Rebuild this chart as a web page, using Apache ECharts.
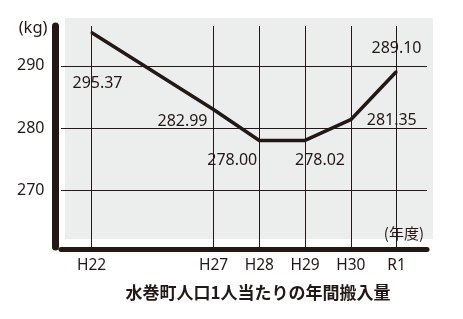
<!DOCTYPE html>
<html><head><meta charset="utf-8">
<script src="https://cdn.jsdelivr.net/npm/echarts@6/dist/echarts.min.js"></script>
<style>html,body{margin:0;padding:0;background:#fff}#c{width:463px;height:319px}</style>
</head><body><div id="c"></div>
<script>
// ---- data ----
const years = ['H22', 'H27', 'H28', 'H29', 'H30', 'R1'];
const values = [295.37, 282.99, 278.00, 278.02, 281.35, 289.10];
const yTicks = [270, 280, 290];
const yName = '(kg)';
const xName = '(年度)';
const titleText = '水巻町人口1人当たりの年間搬入量';

// ---- layout (broken year axis: slot index of each year on a category axis) ----
const slotOf = [2, 10, 13, 16, 19, 22];
const slotCount = 25;
const labelOffsets = [[6, 51], [-31, 12], [-27, 20], [15, 20], [41, 1], [0, -23]];

const cats = new Array(slotCount).fill('');
years.forEach((y, i) => { cats[slotOf[i]] = y; });

const ink = '#231815';
const chart = echarts.init(document.getElementById('c'), null, {renderer: 'canvas'});
chart.setOption({
  animation: false,
  backgroundColor: '#fff',
  graphic: [{type: 'rect', z: -100, silent: true,
    shape: {x: 65, y: 18, width: 368, height: 221}, style: {fill: '#eceeed'}}],
  title: {text: titleText, left: 258, top: 284, textAlign: 'center', padding: 0,
    textStyle: {fontFamily: 'Noto Sans CJK JP', fontSize: 17, fontWeight: 'bold', color: ink}},
  grid: {left: 61, right: 36, top: 26, height: 221, containLabel: false},
  xAxis: {
    type: 'category', data: cats, boundaryGap: false, offset: 2,
    axisLine: {lineStyle: {color: ink, width: 5}},
    axisTick: {show: false},
    axisLabel: {interval: 0, margin: 9, fontSize: 15.5, color: ink, fontFamily: 'Noto Sans'},
    splitLine: {show: true, interval: (i, v) => v !== '', lineStyle: {color: ink, width: 1}},
    name: xName, nameLocation: 'end', nameGap: -3,
    nameTextStyle: {align: 'right', verticalAlign: 'bottom', padding: [0, 0, 8, 0],
      fontSize: 15, color: ink, fontFamily: 'Noto Sans CJK JP'}
  },
  yAxis: {
    type: 'value', min: 260.9, max: 296.4, offset: 5.5,
    axisLine: {show: true, lineStyle: {color: ink, width: 7}},
    axisTick: {show: false, customValues: yTicks},
    axisLabel: {customValues: yTicks, margin: 11, fontSize: 16, color: ink, fontFamily: 'Noto Sans'},
    splitLine: {show: true, lineStyle: {color: ink, width: 1}},
    name: yName, nameLocation: 'end', nameGap: -2,
    nameTextStyle: {align: 'right', verticalAlign: 'middle', padding: [0, 8, 0, 0],
      fontSize: 16.5, color: ink, fontFamily: 'Noto Sans'}
  },
  series: [{
    type: 'line',
    data: years.map((y, i) => ({value: [y, values[i]], label: {offset: labelOffsets[i]}})),
    symbol: 'circle', symbolSize: 2, showSymbol: true,
    itemStyle: {color: ink},
    lineStyle: {color: ink, width: 3.5},
    label: {show: true, position: 'inside', formatter: p => p.value[1].toFixed(2),
      fontSize: 16, color: ink, fontFamily: 'Noto Sans'},
    z: 5
  }]
});
</script></body></html>
